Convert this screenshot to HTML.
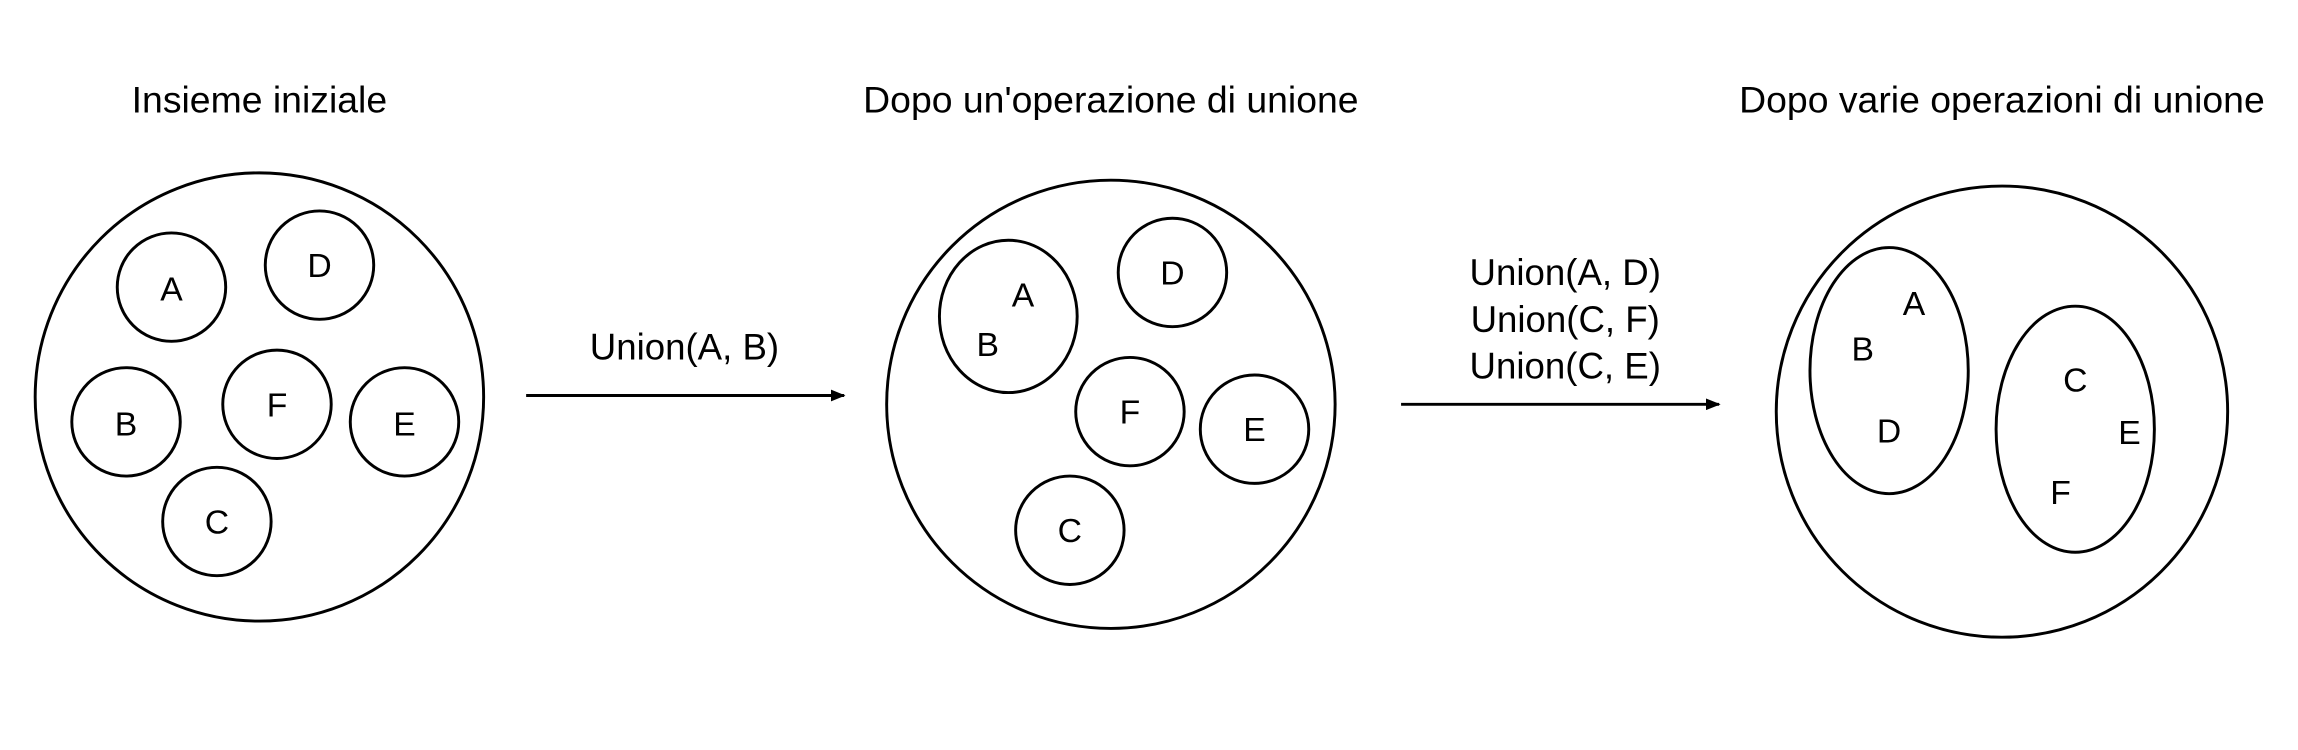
<!DOCTYPE html>
<html><head><style>html,body{margin:0;padding:0;background:#fff}svg{display:block}</style></head>
<body>
<svg width="2298" height="750" viewBox="0 0 1568 512" preserveAspectRatio="none" xmlns="http://www.w3.org/2000/svg">
<defs><marker id="ah" markerWidth="10" markerHeight="8" refX="9" refY="4" orient="auto" markerUnits="userSpaceOnUse"><path d="M0,0 L10,4 L0,8 z" fill="#000"/></marker></defs>
<g font-family="Liberation Sans, sans-serif" font-size="25.5" text-anchor="middle" dominant-baseline="central" fill="#000">
<text x="177" y="68">Insieme iniziale</text>
<text x="758" y="68">Dopo un'operazione di unione</text>
<text x="1366" y="68">Dopo varie operazioni di unione</text>
</g>
<g font-family="Liberation Sans, sans-serif" font-size="25" text-anchor="middle" dominant-baseline="central" fill="#000">
<text x="467" y="237">Union(A, B)</text>
<text x="1068" y="186">Union(A, D)</text>
<text x="1068" y="218">Union(C, F)</text>
<text x="1068" y="250">Union(C, E)</text>
</g>
<g fill="none" stroke="#000" stroke-width="2">
<circle cx="177" cy="271" r="153"/>
<circle cx="117" cy="196" r="37"/><circle cx="218" cy="181" r="37"/>
<circle cx="86" cy="288" r="37"/><circle cx="189" cy="276" r="37"/>
<circle cx="276" cy="288" r="37"/><circle cx="148" cy="356" r="37"/>
<line x1="359" y1="270" x2="576" y2="270" marker-end="url(#ah)"/>
<circle cx="758" cy="276" r="153"/>
<ellipse cx="688" cy="216" rx="47" ry="52"/>
<circle cx="800" cy="186" r="37"/><circle cx="771" cy="281" r="37"/>
<circle cx="856" cy="293" r="37"/><circle cx="730" cy="362" r="37"/>
<line x1="956" y1="276" x2="1173" y2="276" marker-end="url(#ah)"/>
<circle cx="1366" cy="281" r="154"/>
<ellipse cx="1289" cy="253" rx="54" ry="84"/>
<ellipse cx="1416" cy="293" rx="54" ry="84"/>
</g>
<g font-family="Liberation Sans, sans-serif" font-size="23" text-anchor="middle" dominant-baseline="central" fill="#000">
<text x="117" y="198">A</text><text x="218" y="182">D</text><text x="86" y="290">B</text>
<text x="189" y="277">F</text><text x="276" y="290">E</text><text x="148" y="357">C</text>
<text x="698" y="202">A</text><text x="674" y="236">B</text>
<text x="800" y="187">D</text><text x="771" y="282">F</text><text x="856" y="294">E</text><text x="730" y="363">C</text>
<text x="1306" y="208">A</text><text x="1271" y="239">B</text><text x="1289" y="295">D</text>
<text x="1416" y="260">C</text><text x="1453" y="296">E</text><text x="1406" y="337">F</text>
</g>
</svg>
</body></html>
